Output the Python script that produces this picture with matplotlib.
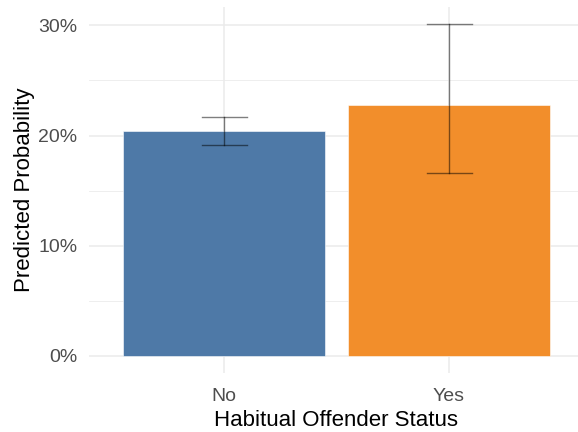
import numpy as np
import matplotlib
matplotlib.use("Agg")
import matplotlib.pyplot as plt
from matplotlib.ticker import FuncFormatter, MultipleLocator

# predicted probabilities with confidence bounds
status = ["No", "Yes"]
prob = [0.2043, 0.2273]
lower = [0.1916, 0.1659]
upper = [0.2170, 0.3013]
colors = ["#4E79A7", "#F28E2B"]

plt.rcParams['font.family'] = ['Liberation Sans', 'DejaVu Sans']

fig = plt.figure(figsize=(5.78, 4.32), dpi=100)
# panel runs slightly past the right edge of the canvas
ax = fig.add_axes([89 / 578, 59.4 / 432, 495 / 578, 365.3 / 432])

x = np.arange(1, len(status) + 1)
ax.bar(x, prob, width=0.9, color=colors, edgecolor="white",
       linewidth=0.4, zorder=2)

# error bars with caps
cap = 0.1
for xi, lo, hi in zip(x, lower, upper):
    ax.plot([xi, xi], [lo, hi], color="black", alpha=0.5, lw=1.0, zorder=3)
    ax.plot([xi - cap, xi + cap], [lo, lo], color="black", alpha=0.5,
            lw=1.0, zorder=3)
    ax.plot([xi - cap, xi + cap], [hi, hi], color="black", alpha=0.5,
            lw=1.0, zorder=3)

# ggplot-like limits: 0.6 padding on discrete axis, 5% on continuous
ax.set_xlim(0.4, len(status) + 0.6)
ymax = max(upper)
ax.set_ylim(-0.05 * ymax, ymax * 1.05)

ax.set_xticks(x)
ax.set_xticklabels(status)
ax.yaxis.set_major_locator(MultipleLocator(0.10))
ax.yaxis.set_minor_locator(MultipleLocator(0.05))
ax.yaxis.set_major_formatter(FuncFormatter(lambda v, p: f"{v * 100:.0f}%"))

ax.grid(which="major", color="#EBEBEB", lw=1.1, zorder=0)
ax.grid(which="minor", axis="y", color="#EBEBEB", lw=0.6, zorder=0)
ax.set_axisbelow(True)
for s in ax.spines.values():
    s.set_visible(False)
ax.tick_params(which="both", length=0)
ax.tick_params(axis="y", labelsize=14, labelcolor="#4D4D4D", pad=8.5)
ax.tick_params(axis="x", labelsize=14, labelcolor="#4D4D4D", pad=11)

ax.set_xlabel("Habitual Offender Status", fontsize=16, labelpad=3.5)
ax.set_ylabel("Predicted Probability", fontsize=16, labelpad=2.5)

fig.savefig("out.png", dpi=100)
